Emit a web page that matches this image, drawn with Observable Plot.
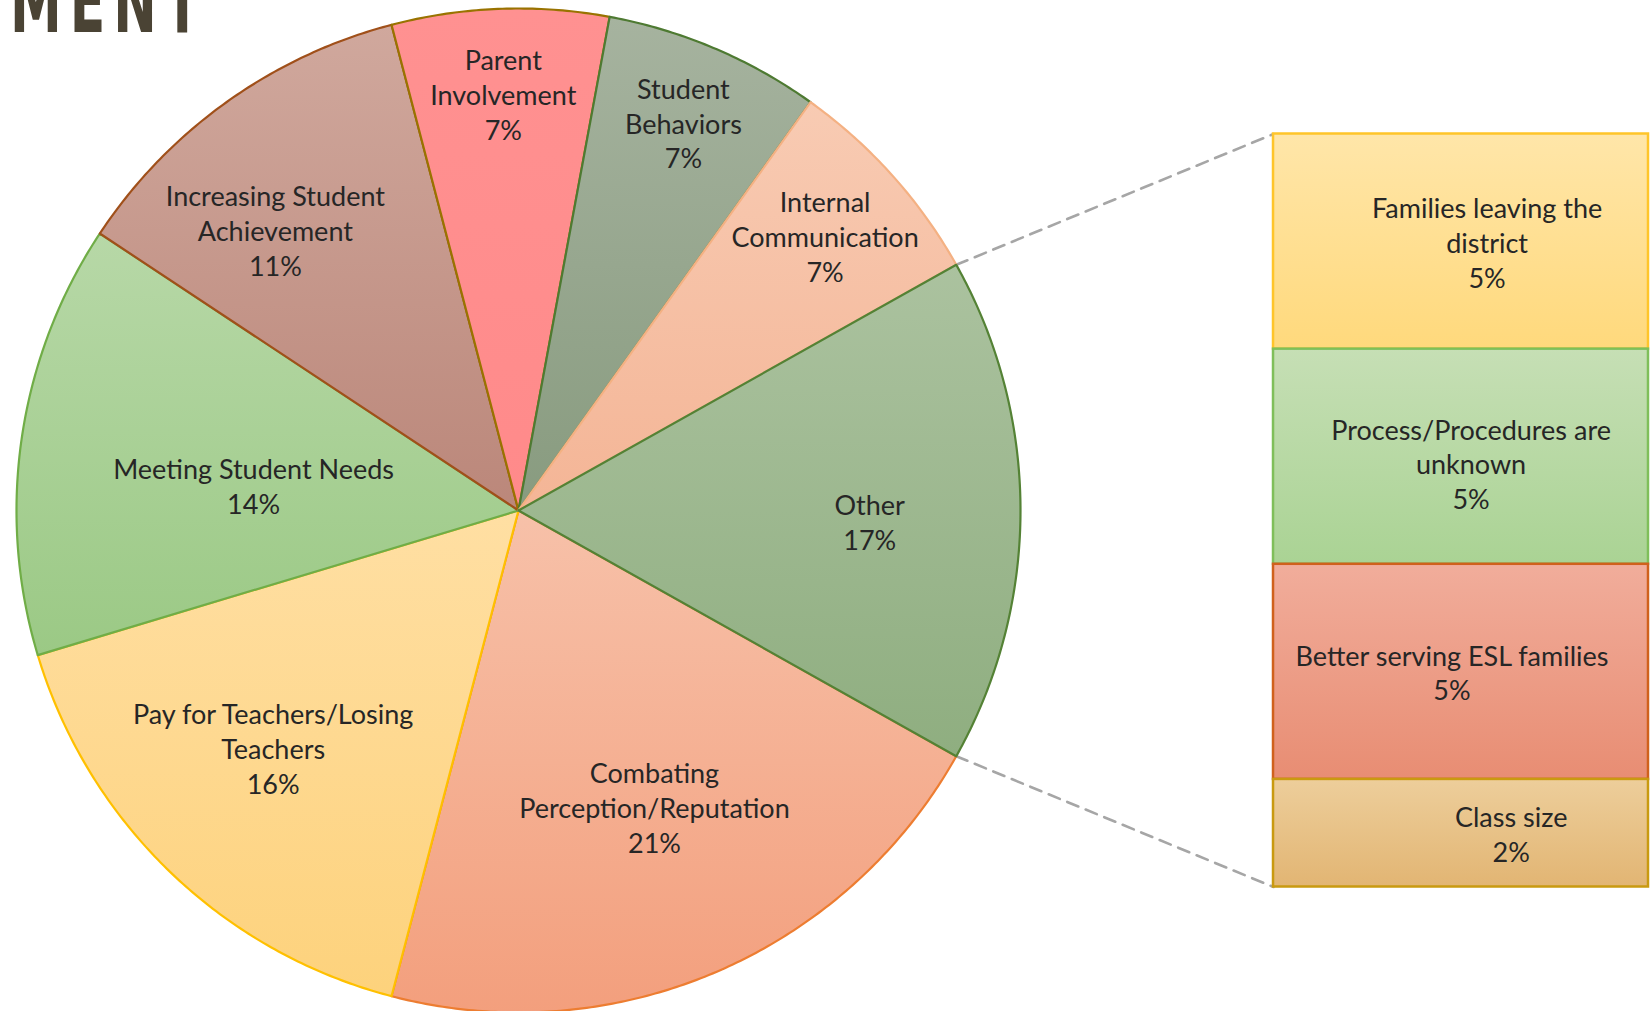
<!DOCTYPE html>
<html>
<head>
<meta charset="utf-8">
<script src="https://cdn.jsdelivr.net/npm/d3@7"></script>
<script src="https://cdn.jsdelivr.net/npm/@observablehq/plot@0.6"></script>
<style>
html, body { margin: 0; padding: 0; background: #ffffff; }
#wrap { position: relative; width: 1652px; height: 1011px; overflow: hidden; }
#heading { position: absolute; left: 0; top: 0; }
</style>
</head>
<body>
<div id="wrap">
  <div id="chart"></div>
  <svg id="heading" width="320" height="40">
    <text x="10" y="32" font-family="'Liberation Sans Narrow', 'DejaVu Sans Condensed', sans-serif" font-weight="bold" font-size="88" letter-spacing="12" textLength="198" lengthAdjust="spacingAndGlyphs" fill="#4a4334">MENT</text>
  </svg>
</div>
<script>
// ---------- DATA ----------
const categories = ["Other", "Internal Communication", "Student Behaviors", "Parent Involvement",
  "Increasing Student Achievement", "Meeting Student Needs", "Pay for Teachers/Losing Teachers",
  "Combating Perception/Reputation"];
const counts = [7, 3, 3, 3, 5, 6, 7, 9];
const pctLabels = ["17%", "7%", "7%", "7%", "11%", "14%", "16%", "21%"];
const labelText = ["Other", "Internal\nCommunication", "Student\nBehaviors", "Parent\nInvolvement",
  "Increasing Student\nAchievement", "Meeting Student Needs", "Pay for Teachers/Losing\nTeachers",
  "Combating\nPerception/Reputation"];

const otherCategories = ["Families leaving the district", "Process/Procedures are unknown",
  "Better serving ESL families", "Class size"];
const otherCounts = [2, 2, 2, 1];
const otherPctLabels = ["5%", "5%", "5%", "2%"];
const otherLabelText = ["Families leaving the\ndistrict", "Process/Procedures are\nunknown",
  "Better serving ESL families", "Class size"];

// ---------- STYLE ----------
const sliceTop    = ["#abc29f", "#f8cbb3", "#a6b39f", "#ff9191", "#d0a89d", "#b7d8a7", "#ffdfa3", "#f7c1a9"];
const sliceBottom = ["#8fae80", "#f4b596", "#889b7f", "#ff8a8a", "#bb877a", "#9bc985", "#fdd27c", "#f39f7d"];
const sliceStroke = ["#548235", "#f4b183", "#4e7a32", "#997300", "#a0501a", "#70ad47", "#ffc000", "#ed7d31"];
const barTop    = ["#ffe6a9", "#c6dfb5", "#f1ad9b", "#edce9b"];
const barBottom = ["#ffd97c", "#aad394", "#e88d73", "#e2b573"];
const barStroke = ["#ffc52a", "#7fbf5a", "#d0611c", "#c99a10"];
const textColor = "#262626";

// ---------- LAYOUT ----------
const W = 1652, H = 1011, CX = 518, CY = 510, R = 502;
const labelR = [0.70, 0.82, 0.84, 0.83, 0.74, 0.53, 0.68, 0.65];
const labelShiftDeg = [-1.8, 0, 0, 0, 5.3, 3, -2, 1.6];
const barX0 = 1.504, barX1 = 2.251, barHalf = 0.75;
const barLabelDx = [0.052, 0.02, -0.018, 0.10];
const barLabelDy = [0, -0.013, 0, 0];
const fontFamily = "Lato, 'Open Sans', sans-serif";
const fontSize = 27;

// ---------- DERIVED ----------
const total = d3.sum(counts);
const halfOther = Math.PI * counts[0] / total;
let acc = -halfOther;
const slices = categories.map((c, i) => {
  const a0 = acc, a1 = acc + 2 * Math.PI * counts[i] / total;
  acc = a1;
  return {i, c, a0, a1, mid: (a0 + a1) / 2};
});
// drawn clockwise, ending with "Other", so each slice's outline sits on top of the previous one
const piePts = slices.slice().reverse().flatMap(s => {
  const n = Math.max(2, Math.ceil((s.a1 - s.a0) / (Math.PI / 360)));
  const pts = [{i: s.i, x: 0, y: 0}];
  for (let k = 0; k <= n; k++) {
    const t = s.a0 + (s.a1 - s.a0) * k / n;
    pts.push({i: s.i, x: Math.cos(t), y: Math.sin(t)});
  }
  pts.push({i: s.i, x: 0, y: 0});
  return pts;
});
const pieLabels = slices.map(s => {
  const t = s.mid + labelShiftDeg[s.i] * Math.PI / 180;
  return {i: s.i, x: labelR[s.i] * Math.cos(t), y: labelR[s.i] * Math.sin(t),
          text: labelText[s.i] + "\n" + pctLabels[s.i]};
});

const otherTotal = d3.sum(otherCounts);
const unit = 2 * barHalf / otherTotal;
let stackTop = barHalf;
const barRows = otherCategories.map((c, i) => {
  const y2 = stackTop, y1 = stackTop - otherCounts[i] * unit;
  stackTop = y1;
  return {i, c, y1, y2,
    lx: (barX0 + barX1) / 2 + barLabelDx[i], ly: (y1 + y2) / 2 + barLabelDy[i],
    text: otherLabelText[i] + "\n" + otherPctLabels[i]};
});

const connectors = [
  {g: 0, x: Math.cos(halfOther), y: Math.sin(halfOther)},
  {g: 0, x: barX0, y: barHalf},
  {g: 1, x: Math.cos(halfOther), y: -Math.sin(halfOther)},
  {g: 1, x: barX0, y: -barHalf}
];

const plot = Plot.plot({
  width: W, height: H, margin: 0,
  style: {fontFamily, background: "transparent"},
  x: {domain: [-CX / R, (W - CX) / R], axis: null},
  y: {domain: [-(H - CY) / R, CY / R], axis: null},
  color: {type: "identity"},
  marks: [
    Plot.line(connectors, {x: "x", y: "y", z: "g", stroke: "#a6a6a6", strokeWidth: 2.6, strokeDasharray: "12,8"}),
    Plot.line(piePts, {x: "x", y: "y", z: "i",
      fill: d => `url(#slice-grad-${d.i})`, stroke: d => sliceStroke[d.i],
      strokeWidth: 2.2, strokeLinejoin: "round"}),
    Plot.rect(barRows, {x1: () => barX0, x2: () => barX1, y1: "y1", y2: "y2",
      fill: d => `url(#bar-grad-${d.i})`, stroke: d => barStroke[d.i], strokeWidth: 2.5}),
    Plot.text(pieLabels, {x: "x", y: "y", text: "text", fontSize, lineHeight: 1.29, fill: textColor}),
    Plot.text(barRows, {x: "lx", y: "ly", text: "text", fontSize, lineHeight: 1.29, fill: textColor})
  ]
});

const svg = d3.select(plot);
const defs = svg.insert("defs", ":first-child");
function addGrad(id, c0, c1) {
  const g = defs.append("linearGradient").attr("id", id)
    .attr("x1", 0).attr("y1", 0).attr("x2", 0).attr("y2", 1);
  g.append("stop").attr("offset", "0%").attr("stop-color", c0);
  g.append("stop").attr("offset", "100%").attr("stop-color", c1);
}
sliceTop.forEach((c, i) => addGrad(`slice-grad-${i}`, c, sliceBottom[i]));
barTop.forEach((c, i) => addGrad(`bar-grad-${i}`, c, barBottom[i]));

document.getElementById("chart").appendChild(plot);
</script>
</body>
</html>
